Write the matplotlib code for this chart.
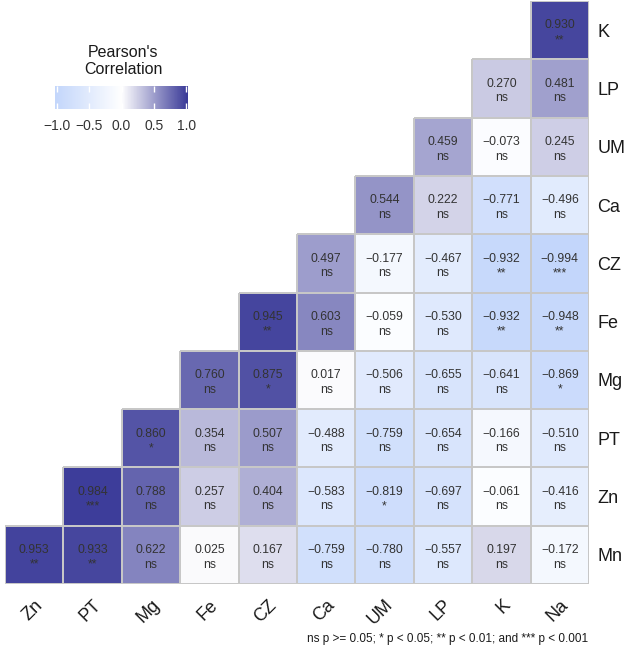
import matplotlib
matplotlib.use("Agg")
import matplotlib.pyplot as plt
import numpy as np
from matplotlib.colors import LinearSegmentedColormap

plt.rcParams['font.family'] = ['Liberation Sans', 'DejaVu Sans']

col_labels = ["Zn", "PT", "Mg", "Fe", "CZ", "Ca", "UM", "LP", "K", "Na"]
row_labels = ["K", "LP", "UM", "Ca", "CZ", "Fe", "Mg", "PT", "Zn", "Mn"]

nan = np.nan
# one list per row (top to bottom), values by column
r_K  = [nan, nan, nan, nan, nan, nan, nan, nan, nan, 0.930]
r_LP = [nan, nan, nan, nan, nan, nan, nan, nan, 0.270, 0.481]
r_UM = [nan, nan, nan, nan, nan, nan, nan, 0.459, -0.073, 0.245]
r_Ca = [nan, nan, nan, nan, nan, nan, 0.544, 0.222, -0.771, -0.496]
r_CZ = [nan, nan, nan, nan, nan, 0.497, -0.177, -0.467, -0.932, -0.994]
r_Fe = [nan, nan, nan, nan, 0.945, 0.603, -0.059, -0.530, -0.932, -0.948]
r_Mg = [nan, nan, nan, 0.760, 0.875, 0.017, -0.506, -0.655, -0.641, -0.869]
r_PT = [nan, nan, 0.860, 0.354, 0.507, -0.488, -0.759, -0.654, -0.166, -0.510]
r_Zn = [nan, 0.984, 0.788, 0.257, 0.404, -0.583, -0.819, -0.697, -0.061, -0.416]
r_Mn = [0.953, 0.933, 0.622, 0.025, 0.167, -0.759, -0.780, -0.557, 0.197, -0.172]

s_K  = ["", "", "", "", "", "", "", "", "", "**"]
s_LP = ["", "", "", "", "", "", "", "", "ns", "ns"]
s_UM = ["", "", "", "", "", "", "", "ns", "ns", "ns"]
s_Ca = ["", "", "", "", "", "", "ns", "ns", "ns", "ns"]
s_CZ = ["", "", "", "", "", "ns", "ns", "ns", "**", "***"]
s_Fe = ["", "", "", "", "**", "ns", "ns", "ns", "**", "**"]
s_Mg = ["", "", "", "ns", "*", "ns", "ns", "ns", "ns", "*"]
s_PT = ["", "", "*", "ns", "ns", "ns", "ns", "ns", "ns", "ns"]
s_Zn = ["", "***", "ns", "ns", "ns", "ns", "*", "ns", "ns", "ns"]
s_Mn = ["**", "**", "ns", "ns", "ns", "ns", "ns", "ns", "ns", "ns"]

vals = np.array([r_K, r_LP, r_UM, r_Ca, r_CZ, r_Fe, r_Mg, r_PT, r_Zn, r_Mn])
sig = [s_K, s_LP, s_UM, s_Ca, s_CZ, s_Fe, s_Mg, s_PT, s_Zn, s_Mn]

cmap = LinearSegmentedColormap.from_list("corr", ["#c3d6fb", "#ffffff", "#3a3a98"])

W, H = 629, 654
fig = plt.figure(figsize=(W / 100, H / 100), dpi=100)
ax = fig.add_axes([5 / W, 1 - 584 / H, 584 / W, 583 / H])

data = np.ma.masked_invalid(vals)
mesh = ax.pcolormesh(data, cmap=cmap, vmin=-1, vmax=1, linewidth=1.2)
# grey borders only around the filled cells
valid = ~np.isnan(vals).ravel()
mesh.set_edgecolor([(0.78, 0.78, 0.78, 1) if ok else (1, 1, 1, 0) for ok in valid])
ax.set_xlim(0, 10)
ax.set_ylim(10, 0)

for i in range(10):
    for j in range(10):
        v = vals[i, j]
        if np.isnan(v):
            continue
        txt = f"{v:.3f}".replace("-", "\u2212")
        ax.text(j + 0.5, i + 0.42, txt, ha="center", va="center", fontsize=8.8, color="#333333")
        ax.text(j + 0.5, i + 0.67, sig[i][j], ha="center", va="center", fontsize=8.8, color="#333333")

for s in ax.spines.values():
    s.set_visible(False)
ax.set_xticks(np.arange(10) + 0.5)
ax.set_xticklabels(col_labels, rotation=45, ha="right", va="top", rotation_mode="anchor",
                   fontsize=13, color="#1a1a1a")
ax.set_yticks(np.arange(10) + 0.5)
ax.set_yticklabels(row_labels, fontsize=13, color="#1a1a1a")
ax.yaxis.tick_right()
ax.tick_params(length=0, pad=6)
ax.tick_params(axis="x", pad=9)

# legend
cax = fig.add_axes([55 / W, 1 - 109 / H, 133 / W, 23 / H])
grad = np.linspace(-1, 1, 300).reshape(1, -1)
cax.imshow(grad, cmap=cmap, vmin=-1, vmax=1, aspect="auto", extent=[-1.03, 1.03, 0, 1])
cax.set_xlim(-1.03, 1.03)
cax.set_yticks([])
ticks = [-1.0, -0.5, 0.0, 0.5, 1.0]
cax.set_xticks(ticks)
cax.set_xticklabels([f"{t:.1f}".replace("-", "\u2212") for t in ticks], fontsize=10, color="#333333")
cax.tick_params(axis="x", direction="in", length=4, color="white", width=1, top=True, pad=7)
for s in cax.spines.values():
    s.set_visible(False)

fig.text(123 / W, 1 - 61 / H, "Pearson's\nCorrelation", ha="center", va="center",
         fontsize=11.5, color="#1a1a1a", linespacing=1.1)

fig.text(588 / W, 1 - 639 / H, "ns p >= 0.05; * p < 0.05; ** p < 0.01; and *** p < 0.001",
         ha="right", va="center", fontsize=8.5, color="#1a1a1a")

fig.savefig("out.png", dpi=100)
